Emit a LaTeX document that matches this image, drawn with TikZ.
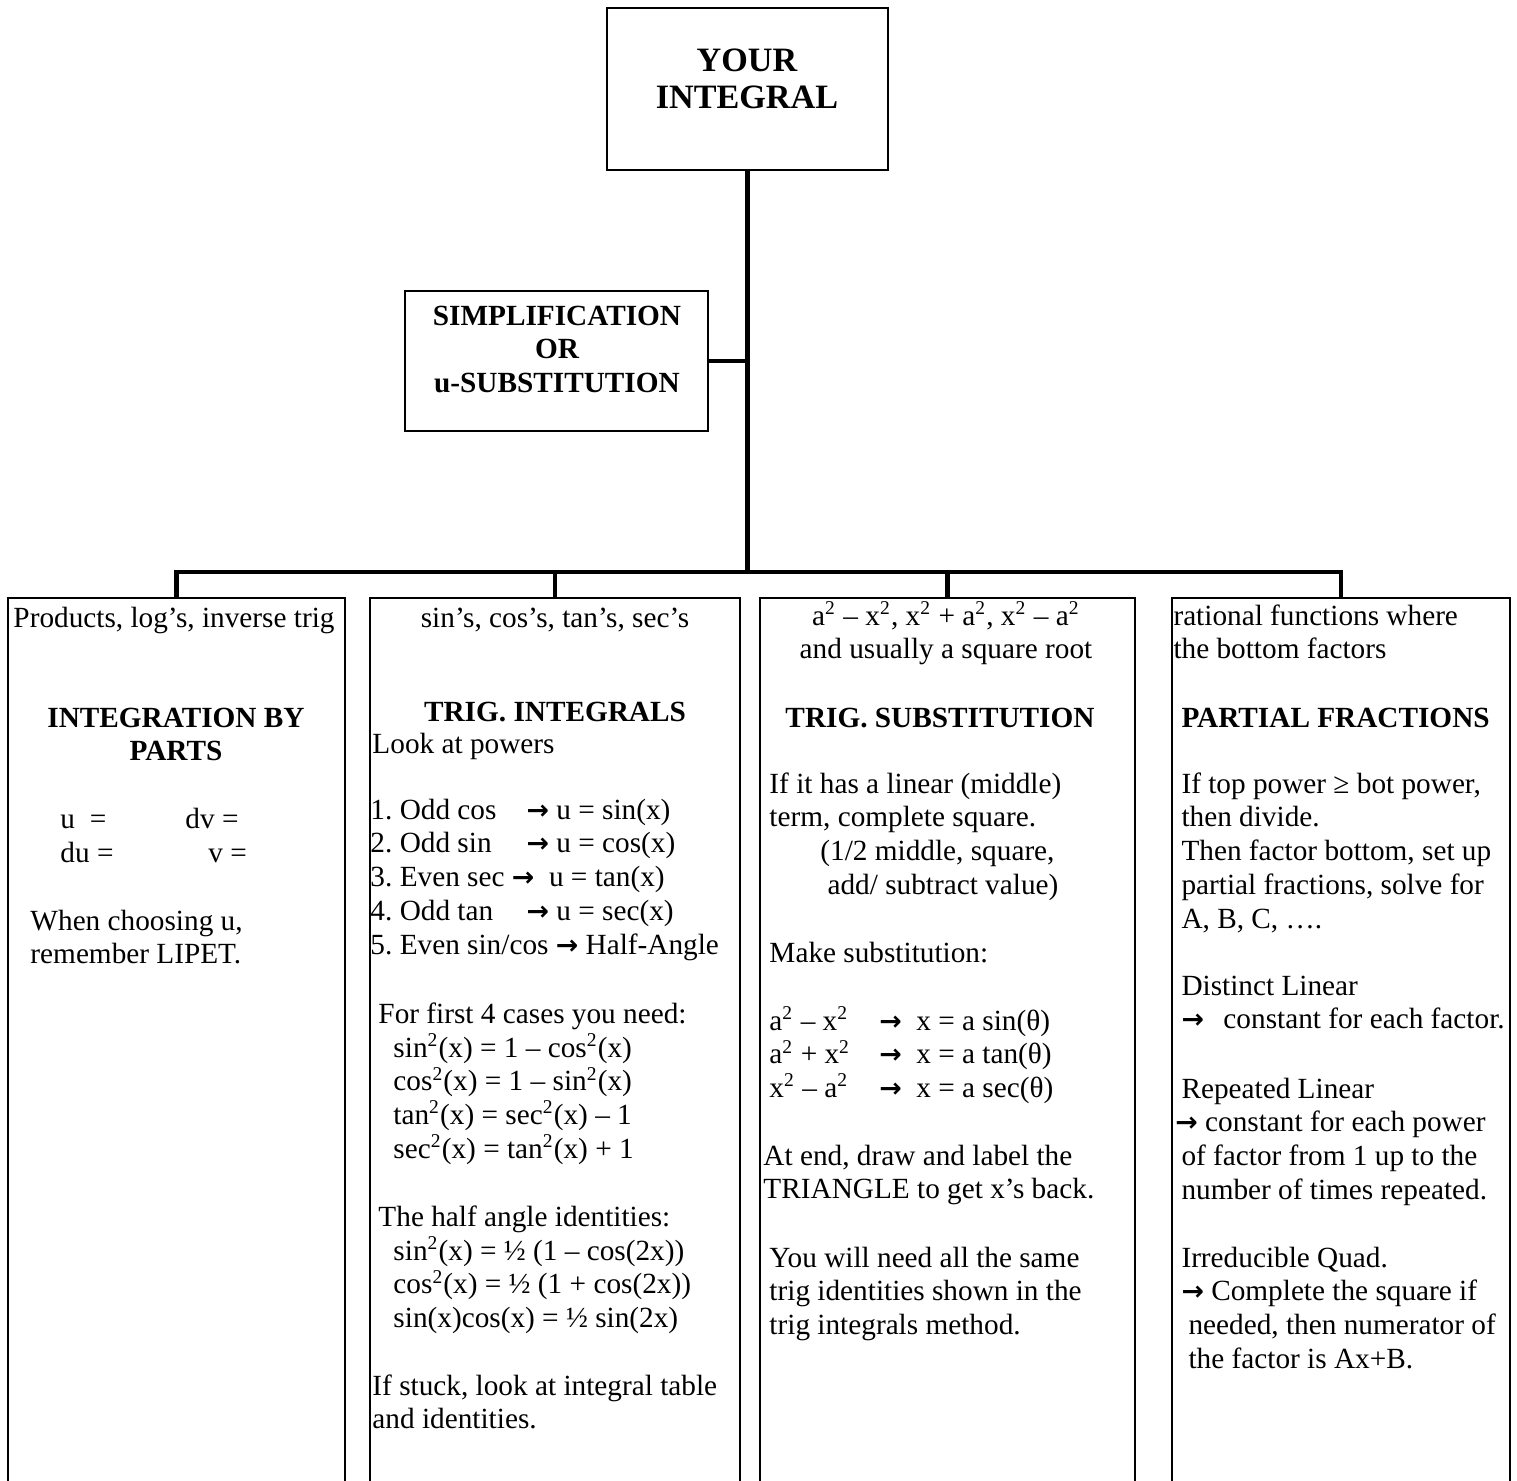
\documentclass[tikz,border=0pt]{standalone}
\usepackage{fontspec}
\setmainfont{Liberation Serif}
\newfontfamily\arrfont{DejaVu Sans}

\newcommand{\sqd}{\textsuperscript{2}}
\newcommand{\goto}{{\arrfont\bfseries\fontsize{11}{11}\selectfont →}}

\begin{document}
\begin{tikzpicture}[x=0.41pt, y=-0.41pt,
    every node/.style={font=\fontsize{12}{13.85}\selectfont, inner sep=0pt,
        execute at begin node={\frenchspacing\spaceskip=0pt\xspaceskip=0pt}},
    box/.style={draw, line width=0.7pt},
    conn/.style={line width=2pt},
    txt/.style={anchor=base west, align=flush left, text width=#1},
    txt/.default=136pt,
    ctxt/.style={anchor=base, align=flush center, text width=#1},
    head/.style={anchor=base, align=flush center, text width=#1, font=\fontsize{12}{13.85}\selectfont\bfseries}]
    % Page size
    \useasboundingbox (0,0) rectangle (1517,1480);

    % Top of the chart
    \node[box, minimum width=115.2pt, minimum height=66.4pt] (integral) at (747.5,89) {};
    \node[head=110pt, font=\fontsize{14}{15.2}\selectfont\bfseries] (integraltxt) at (747,71) {YOUR\\INTEGRAL};
    \node[box, minimum width=124.2pt, minimum height=57.4pt] (simp) at (556.5,361) {};
    \node[head=120pt] (simptxt) at (557,325) {SIMPLIFICATION\\OR\\u-SUBSTITUTION};

    % The four method boxes (they run off the page)
    \node[box, minimum width=138.2pt, minimum height=369.8pt] (ibp) at (176.5,1049) {};
    \node[box, minimum width=151.7pt, minimum height=369.8pt] (ti) at (555,1049) {};
    \node[box, minimum width=153.75pt, minimum height=369.8pt] (ts) at (947.5,1049) {};
    \node[box, minimum width=138.6pt, minimum height=369.8pt] (pf) at (1341,1049) {};

    % Connectors
    \coordinate (bus) at (747.5,572);
    \draw[conn] (integral.south) -- (bus);
    \draw[conn] (simp.east) -- (simp.east -| bus);
    \draw[conn] (ibp.north) |- (bus) -| (pf.north);
    \draw[conn] (ti.north) -- (ti.north |- bus);
    \draw[conn] (ts.north) -- (ts.north |- bus);

    % Integration by parts
    \node[txt] (ibpcue) at (13,627) {Products, log’s, inverse trig};
    \node[head=136pt] (ibphead) at (176,727) {INTEGRATION BY\\PARTS};
    \node[txt=40pt] (ibpu) at (60,828) {u\ \ =};
    \node[txt=40pt] (ibpdv) at (185,828) {dv =};
    \node[txt=40pt] (ibpdu) at (60,862) {du =};
    \node[txt=40pt] (ibpv) at (208,862) {v =};
    \node[txt=120pt] (ibplipet) at (30,930) {When choosing u,\\remember LIPET.};

    % Trig integrals
    \node[ctxt=148pt] (ticue) at (555,627) {sin’s, cos’s, tan’s, sec’s};
    \node[head=148pt] (tihead) at (555,721) {TRIG. INTEGRALS};
    \node[txt=148pt] (tilook) at (372,753) {Look at powers};
    \node[txt=150pt] (tilist) at (370,819) {\makebox[64pt][l]{1. Odd cos}\goto\ u = sin(x)\\
        \makebox[64pt][l]{2. Odd sin}\goto\ u = cos(x)\\
        3. Even sec \goto\ \ u = tan(x)\\
        \makebox[64pt][l]{4. Odd tan}\goto\ u = sec(x)\\
        5. Even sin/cos \goto\ Half-Angle};
    \node[txt=145pt] (tineed) at (378,1023) {For first 4 cases you need:};
    \node[txt=140pt] (tiident) at (393,1057) {sin\sqd(x) = 1 – cos\sqd(x)\\
        cos\sqd(x) = 1 – sin\sqd(x)\\
        tan\sqd(x) = sec\sqd(x) – 1\\
        sec\sqd(x) = tan\sqd(x) + 1};
    \node[txt=145pt] (tihalf) at (378,1226) {The half angle identities:};
    \node[txt=140pt] (tihalfid) at (393,1260) {sin\sqd(x) = ½ (1 – cos(2x))\\
        cos\sqd(x) = ½ (1 + cos(2x))\\
        sin(x)cos(x) = ½ sin(2x)};
    \node[txt=148pt] (tistuck) at (372,1395) {If stuck, look at integral table\\and identities.};

    % Trig substitution
    \node[ctxt=150pt] (tscue) at (946,625) {a\sqd{} – x\sqd, x\sqd{} + a\sqd, x\sqd{} – a\sqd\\and usually a square root};
    \node[head=150pt] (tshead) at (940,727) {TRIG. SUBSTITUTION};
    \node[txt=148pt] (tslinear) at (769,793) {If it has a linear (middle)\\term, complete square.\\
        \hspace*{20.9pt}(1/2 middle, square,\\
        \hspace*{23.8pt}add/ subtract value)};
    \node[txt=148pt] (tsmake) at (769,962) {Make substitution:};
    \node[txt=148pt] (tssubs) at (769,1030) {\makebox[45pt][l]{a\sqd{} – x\sqd}\goto\ \ x = a sin(θ)\\
        \makebox[45pt][l]{a\sqd{} + x\sqd}\goto\ \ x = a tan(θ)\\
        \makebox[45pt][l]{x\sqd{} – a\sqd}\goto\ \ x = a sec(θ)};
    \node[txt=150pt] (tsend) at (763,1165) {At end, draw and label the\\TRIANGLE to get x’s back.};
    \node[txt=148pt] (tsneed) at (769,1267) {You will need all the same\\trig identities shown in the\\trig integrals method.};

    % Partial fractions
    \node[txt=138pt] (pfcue) at (1173,625) {rational functions where\\the bottom factors};
    \node[head=136pt, anchor=base west, align=flush left] (pfhead) at (1181,727) {PARTIAL FRACTIONS};
    \node[txt=136pt] (pfdivide) at (1181,793) {If top power ≥ bot power,\\then divide.\\Then factor bottom, set up\\partial fractions, solve for\\A, B, C, ….};
    \node[txt=136pt] (pfdist) at (1181,995) {Distinct Linear\\\goto\hspace{8pt}constant for each factor.};
    \node[txt=136pt] (pfrep) at (1181,1098) {Repeated Linear\\\hspace*{-2.5pt}\goto\ constant for each power\\of factor from 1 up to the\\number of times repeated.};
    \node[txt=136pt] (pfirr) at (1181,1267) {Irreducible Quad.\\\goto\ Complete the square if\\\hspace*{2.9pt}needed, then numerator of\\\hspace*{2.9pt}the factor is Ax+B.};
\end{tikzpicture}
\end{document}
